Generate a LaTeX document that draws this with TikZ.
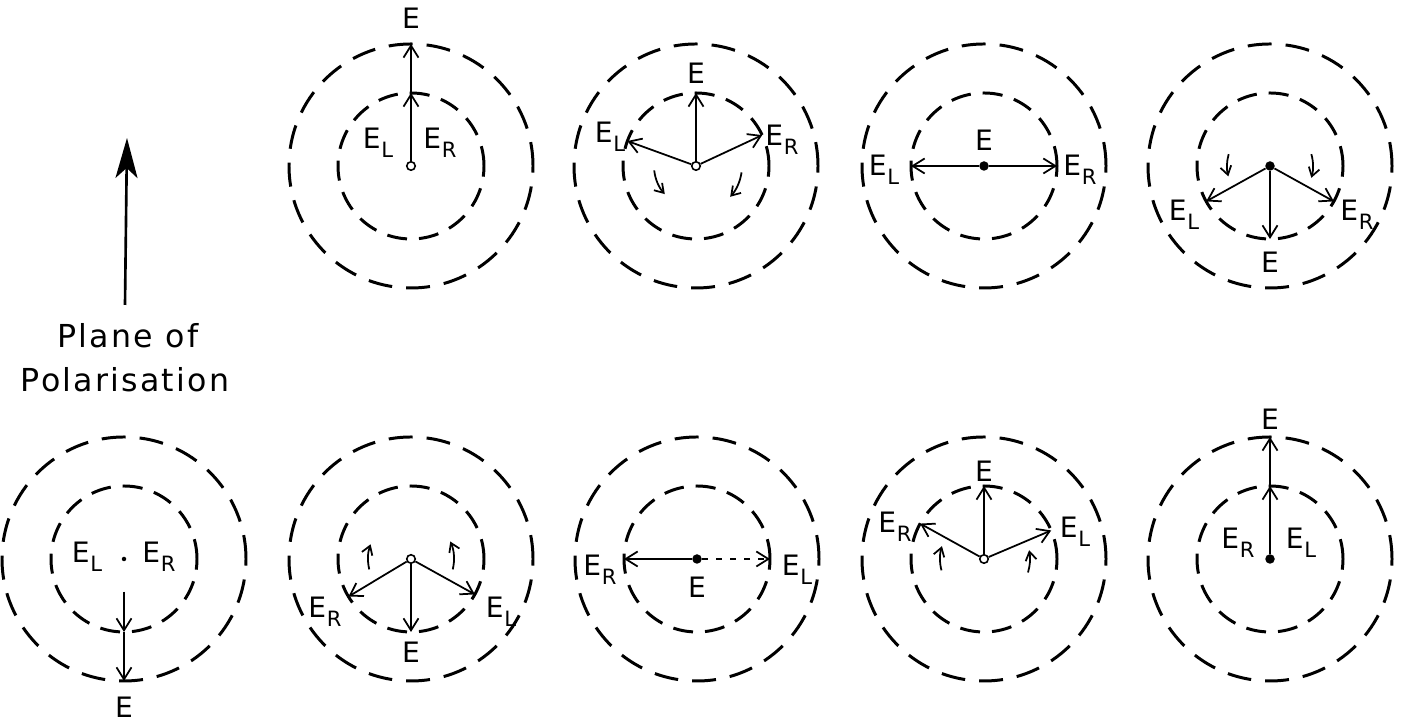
\documentclass[tikz,border=0pt]{standalone}
\usepackage{fontspec}
\setmainfont{DejaVu Sans}
\usetikzlibrary{arrows.meta, positioning, calc}
\newcommand{\Esub}[1]{E\kern0.03em\raisebox{-0.6ex}{\fontsize{12}{12}\selectfont #1}}
\tikzset{
    outerring/.style={line width=1.7pt, dash pattern=on 4.8mm off 2.8mm},
    innerring/.style={line width=1.7pt, dash pattern=on 4.0mm off 2.4mm},
    vec/.style={-{Straight Barb[length=2.4mm,width=3mm]}, line width=1pt},
    spin/.style={-{Straight Barb[length=1.7mm,width=2.2mm]}, line width=1pt},
    fulldot/.style={circle, fill, inner sep=0pt, minimum size=1.9mm},
    opendot/.style={circle, draw, line width=0.9pt, inner sep=0pt, minimum size=1.7mm},
    lbl/.style={font=\fontsize{16}{18}\selectfont, inner sep=0pt},
    caption/.style={font=\fontsize{18}{22}\selectfont\addfontfeature{LetterSpace=7}},
    planearrow/.style={-{Stealth[length=8mm,width=4.4mm,inset=2mm]}, line width=1.5pt}
}
\begin{document}
\begin{tikzpicture}[x=0.2mm, y=0.2mm]
    \useasboundingbox (0,0) rectangle (1407,723);

    % ring centres
    \coordinate (c1) at (411,557);
    \coordinate (c2) at (696,557);
    \coordinate (c3) at (984,557);
    \coordinate (c4) at (1270,557);
    \coordinate (c5) at (124,164);
    \coordinate (c6) at (411,164);
    \coordinate (c7) at (697,164);
    \coordinate (c8) at (984,164);
    \coordinate (c9) at (1270,164);

    \draw[outerring] (c1) circle[radius=122];
    \draw[innerring] (c1) circle[radius=73];
    \draw[outerring] (c2) circle[radius=122];
    \draw[innerring] (c2) circle[radius=73];
    \draw[outerring] (c3) circle[radius=122];
    \draw[innerring] (c3) circle[radius=73];
    \draw[outerring] (c4) circle[radius=122];
    \draw[innerring] (c4) circle[radius=73];
    \draw[outerring] (c5) circle[radius=122];
    \draw[innerring] (c5) circle[radius=73];
    \draw[outerring] (c6) circle[radius=122];
    \draw[innerring] (c6) circle[radius=73];
    \draw[outerring] (c7) circle[radius=122];
    \draw[innerring] (c7) circle[radius=73];
    \draw[outerring] (c8) circle[radius=122];
    \draw[innerring] (c8) circle[radius=73];
    \draw[outerring] (c9) circle[radius=122];
    \draw[innerring] (c9) circle[radius=73];

    % plane of polarisation
    \coordinate (pbase) at (125,418);
    \coordinate (ptip) at (127,585);
    \draw[planearrow] (pbase) -- (ptip);
    \node[caption] (plane) at (128,387) {Plane of};
    \node[caption] (polar) at (125,343) {Polarisation};

    % panel 1: both up
    \node[opendot] (o1) at (c1) {};
    \coordinate (i1) at ($(c1)+(90:73)$);
    \coordinate (u1) at ($(c1)+(90:122)$);
    \draw[vec] (o1) -- (i1);
    \draw[vec] (i1) -- (u1);
    \node[lbl] (e1) at ($(c1)+(0,148)$) {E};
    \node[lbl] (l1) at ($(c1)+(-33,23)$) {\Esub{L}};
    \node[lbl] (r1) at ($(c1)+(29,23)$) {\Esub{R}};

    % panel 2
    \node[opendot] (o2) at (c2) {};
    \coordinate (l2tip) at ($(c2)+(160:73)$);
    \coordinate (r2tip) at ($(c2)+(25:73)$);
    \coordinate (e2tip) at ($(c2)+(90:73)$);
    \draw[vec] (o2) -- (l2tip);
    \draw[vec] (o2) -- (r2tip);
    \draw[vec] (o2) -- (e2tip);
    \node[lbl] (e2) at ($(c2)+(0,93)$) {E};
    \node[lbl] (l2) at ($(c2)+(-86,29)$) {\Esub{L}};
    \node[lbl] (r2) at ($(c2)+(86,26)$) {\Esub{R}};
    \draw[spin] ($(c2)+(186:42)$) arc[start angle=186, end angle=222, radius=42];
    \draw[spin] ($(c2)+(-8:46)$) arc[start angle=-8, end angle=-42, radius=46];

    % panel 3
    \node[fulldot] (o3) at (c3) {};
    \coordinate (l3tip) at ($(c3)+(180:73)$);
    \coordinate (r3tip) at ($(c3)+(0:73)$);
    \draw[vec] (o3) -- (l3tip);
    \draw[vec] (o3) -- (r3tip);
    \node[lbl] (e3) at ($(c3)+(0,26)$) {E};
    \node[lbl] (l3) at ($(c3)+(-100,-4)$) {\Esub{L}};
    \node[lbl] (r3) at ($(c3)+(96,-4)$) {\Esub{R}};

    % panel 4
    \node[fulldot] (o4) at (c4) {};
    \coordinate (l4tip) at ($(c4)+(209:73)$);
    \coordinate (r4tip) at ($(c4)+(-29:73)$);
    \coordinate (e4tip) at ($(c4)+(270:73)$);
    \draw[vec] (o4) -- (l4tip);
    \draw[vec] (o4) -- (r4tip);
    \draw[vec] (o4) -- (e4tip);
    \node[lbl] (e4) at ($(c4)+(0,-96)$) {E};
    \node[lbl] (l4) at ($(c4)+(-86,-49)$) {\Esub{L}};
    \node[lbl] (r4) at ($(c4)+(87,-49)$) {\Esub{R}};
    \draw[spin] ($(c4)+(164:43)$) arc[start angle=164, end angle=194, radius=43];
    \draw[spin] ($(c4)+(16:43)$) arc[start angle=16, end angle=-16, radius=43];

    % panel 5: both down
    \node[fulldot, minimum size=0.9mm] (o5) at (c5) {};
    \coordinate (i5) at ($(c5)+(270:73)$);
    \coordinate (d5) at ($(c5)+(270:122)$);
    \draw[vec, shorten <=6mm] (o5) -- (i5);
    \draw[vec] (i5) -- (d5);
    \node[lbl] (e5) at ($(c5)+(0,-148)$) {E};
    \node[lbl] (l5) at ($(c5)+(-37,2)$) {\Esub{L}};
    \node[lbl] (r5) at ($(c5)+(35,2)$) {\Esub{R}};

    % panel 6
    \node[opendot] (o6) at (c6) {};
    \coordinate (r6tip) at ($(c6)+(211:73)$);
    \coordinate (l6tip) at ($(c6)+(-29:73)$);
    \coordinate (e6tip) at ($(c6)+(270:73)$);
    \draw[vec] (o6) -- (r6tip);
    \draw[vec] (o6) -- (l6tip);
    \draw[vec] (o6) -- (e6tip);
    \node[lbl] (e6) at ($(c6)+(0,-93)$) {E};
    \node[lbl] (r6) at ($(c6)+(-86,-53)$) {\Esub{R}};
    \node[lbl] (l6) at ($(c6)+(90,-53)$) {\Esub{L}};
    \draw[spin] ($(c6)+(194:43)$) arc[start angle=194, end angle=160, radius=43];
    \draw[spin] ($(c6)+(-14:43)$) arc[start angle=-14, end angle=24, radius=43];

    % panel 7
    \node[fulldot] (o7) at (c7) {};
    \coordinate (r7tip) at ($(c7)+(180:73)$);
    \coordinate (l7tip) at ($(c7)+(0:73)$);
    \draw[vec] (o7) -- (r7tip);
    \draw[vec, dash pattern=on 1.2mm off 1.6mm] (o7) -- (l7tip);
    \node[lbl] (e7) at ($(c7)+(0,-28)$) {E};
    \node[lbl] (r7) at ($(c7)+(-97,-11)$) {\Esub{R}};
    \node[lbl] (l7) at ($(c7)+(100,-11)$) {\Esub{L}};

    % panel 8
    \node[opendot] (o8) at (c8) {};
    \coordinate (r8tip) at ($(c8)+(151:73)$);
    \coordinate (l8tip) at ($(c8)+(23:73)$);
    \coordinate (e8tip) at ($(c8)+(90:73)$);
    \draw[vec] (o8) -- (r8tip);
    \draw[vec] (o8) -- (l8tip);
    \draw[vec] (o8) -- (e8tip);
    \node[lbl] (e8) at ($(c8)+(0,88)$) {E};
    \node[lbl] (r8) at ($(c8)+(-89,32)$) {\Esub{R}};
    \node[lbl] (l8) at ($(c8)+(91,27)$) {\Esub{L}};
    \draw[spin] ($(c8)+(195:44)$) arc[start angle=195, end angle=163, radius=44];
    \draw[spin] ($(c8)+(-17:46)$) arc[start angle=-17, end angle=11, radius=46];

    % panel 9: both up
    \node[fulldot] (o9) at (c9) {};
    \coordinate (i9) at ($(c9)+(90:73)$);
    \coordinate (u9) at ($(c9)+(90:122)$);
    \draw[vec] (o9) -- (i9);
    \draw[vec] (i9) -- (u9);
    \node[lbl] (e9) at ($(c9)+(0,140)$) {E};
    \node[lbl] (r9) at ($(c9)+(-32,16)$) {\Esub{R}};
    \node[lbl] (l9) at ($(c9)+(31,16)$) {\Esub{L}};
\end{tikzpicture}
\end{document}
